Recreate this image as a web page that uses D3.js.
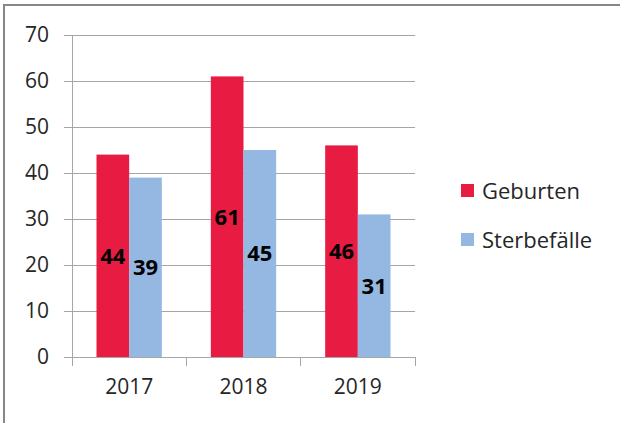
<!DOCTYPE html>
<html>
<head>
<meta charset="utf-8">
<script src="https://cdn.jsdelivr.net/npm/d3@7"></script>
<style>
  html, body { margin: 0; padding: 0; background: #fff; }
  svg { display: block; }
</style>
</head>
<body>
<div id="chart"></div>
<script>
// ── Data ─────────────────────────────────────────────────────
const YEARS        = ['2017', '2018', '2019'];
const SERIES       = ['Geburten', 'Sterbefälle'];
const GEBURTEN     = [44, 61, 46];
const STERBEFAELLE = [39, 45, 31];
const Y_TICKS      = [0, 10, 20, 30, 40, 50, 60, 70];

const COLORS = { 'Geburten': '#e81c42', 'Sterbefälle': '#95b8e3' };
const FONT = "'Open Sans', 'Noto Sans', sans-serif";

const width = 620, height = 423;
const margin = { top: 35, right: 205, bottom: 66, left: 72 };
const innerW = width - margin.left - margin.right;
const innerH = height - margin.top - margin.bottom;

const svg = d3.select('#chart').append('svg')
  .attr('width', width)
  .attr('height', height);

// outer frame (only left/top visible in the picture)
svg.append('rect')
  .attr('x', 4).attr('y', 5)
  .attr('width', width + 10).attr('height', height + 10)
  .attr('fill', 'none')
  .attr('stroke', '#878787')
  .attr('stroke-width', 2);

const g = svg.append('g')
  .attr('transform', `translate(${margin.left},${margin.top})`);

const x = d3.scaleBand().domain(YEARS).range([0, innerW]).paddingInner(0).paddingOuter(0);
const y = d3.scaleLinear().domain([0, 70]).range([innerH, 0]);

// gap 150% of bar width like Excel
const barW = x.bandwidth() / 3.5;
const xs = d3.scaleBand().domain(SERIES).range([0, barW * 2]);

// ── Grid ────────────────────────────────────────────────────
g.append('g')
  .selectAll('line')
  .data(Y_TICKS.filter(d => d > 0))
  .join('line')
  .attr('x1', 0).attr('x2', innerW)
  .attr('y1', d => y(d)).attr('y2', d => y(d))
  .attr('stroke', '#a6a6a6')
  .attr('stroke-width', 1)
  .attr('shape-rendering', 'crispEdges');

// ── Bars ────────────────────────────────────────────────────
const rows = YEARS.map((yr, i) => ({
  year: yr,
  values: [
    { key: 'Geburten', value: GEBURTEN[i] },
    { key: 'Sterbefälle', value: STERBEFAELLE[i] },
  ],
}));

const grp = g.append('g').selectAll('g')
  .data(rows)
  .join('g')
  .attr('transform', d => `translate(${x(d.year) + (x.bandwidth() - barW * 2) / 2},0)`);

grp.selectAll('rect')
  .data(d => d.values)
  .join('rect')
  .attr('x', d => xs(d.key))
  .attr('y', d => y(d.value))
  .attr('width', xs.bandwidth())
  .attr('height', d => innerH - y(d.value))
  .attr('fill', d => COLORS[d.key]);

grp.selectAll('text')
  .data(d => d.values)
  .join('text')
  .attr('x', d => xs(d.key) + xs.bandwidth() / 2)
  .attr('y', d => (y(d.value) + innerH) / 2)
  .attr('dy', '0.36em')
  .attr('text-anchor', 'middle')
  .attr('font-family', FONT)
  .attr('font-weight', 700)
  .attr('font-size', 22)
  .attr('fill', '#000')
  .text(d => d.value);

// ── Axes ────────────────────────────────────────────────────
const yAxis = g.append('g')
  .call(d3.axisLeft(y).tickValues(Y_TICKS).tickSize(8).tickPadding(15));
yAxis.select('.domain').attr('stroke', '#a6a6a6');
yAxis.selectAll('.tick line').attr('stroke', '#a6a6a6');
yAxis.selectAll('.tick text')
  .attr('font-family', FONT).attr('font-size', 21).attr('fill', '#262626');

const xAxis = g.append('g')
  .attr('transform', `translate(0,${innerH})`)
  .call(d3.axisBottom(x).tickSize(0).tickPadding(22));
xAxis.select('.domain').attr('stroke', '#a6a6a6');
xAxis.selectAll('.tick text')
  .attr('font-family', FONT).attr('font-size', 21).attr('fill', '#262626');

// category boundary ticks
xAxis.append('g')
  .selectAll('line')
  .data(d3.range(YEARS.length + 1))
  .join('line')
  .attr('x1', i => i * x.step()).attr('x2', i => i * x.step())
  .attr('y1', 0).attr('y2', 9)
  .attr('stroke', '#a6a6a6')
  .attr('shape-rendering', 'crispEdges');

// ── Legend ──────────────────────────────────────────────────
const legend = svg.append('g')
  .attr('transform', 'translate(461,191)')
  .selectAll('g')
  .data(SERIES)
  .join('g')
  .attr('transform', (d, i) => `translate(0,${i * 49})`);

legend.append('rect')
  .attr('x', 0).attr('y', -7)
  .attr('width', 13).attr('height', 13)
  .attr('fill', d => COLORS[d]);

legend.append('text')
  .attr('x', 21).attr('y', 0)
  .attr('dy', '0.36em')
  .attr('font-family', FONT)
  .attr('font-size', 22)
  .attr('fill', '#262626')
  .text(d => d);
</script>
</body>
</html>
